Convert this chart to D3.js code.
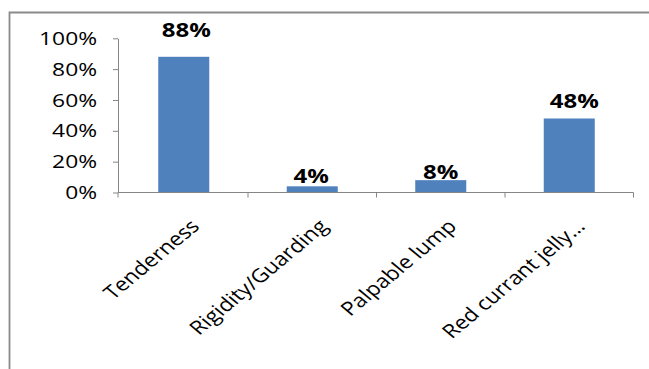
<!DOCTYPE html>
<html><head><meta charset="utf-8">
<script src="https://cdn.jsdelivr.net/npm/d3@7"></script>
<style>
body{margin:0;background:#fff;}
svg{display:block;}
text{font-family:"Open Sans",sans-serif;fill:#000;}
</style></head>
<body>
<svg id="chart" width="649" height="369"></svg>
<script>
const categories = ["Tenderness", "Rigidity/Guarding", "Palpable lump", "Red currant jelly\u2026"];
const values = [0.88, 0.04, 0.08, 0.48];
const valueLabels = ["88%", "4%", "8%", "48%"];
const yTicks = [0, 0.2, 0.4, 0.6, 0.8, 1.0];

(function () {
const svg = d3.select("#chart");
const W = 649, H = 369;
const axisX = 118, mLeft = 119.5, mRight = 633.5, mTop = 38.3, mBottom = 192.5;
const SX = 1.2; // horizontal text stretch seen in the reference

// frame
svg.append("path")
  .attr("d", `M9.5,${H} L9.5,12.5 L${W},12.5`)
  .attr("fill", "none").attr("stroke", "#8a8a8a").attr("stroke-width", 1.8);

const x = d3.scaleBand().domain(categories).range([mLeft, mRight])
  .paddingInner(0.603).paddingOuter(0.3015);
const y = d3.scaleLinear().domain([0, 1]).range([mBottom, mTop]);

// y axis
const yAxis = d3.axisLeft(y).tickValues(yTicks).tickFormat(d3.format(".0%"))
  .tickSize(5).tickSizeOuter(0).tickPadding(15);
const gy = svg.append("g").attr("transform", `translate(${axisX},0)`).call(yAxis);
gy.select(".domain").attr("stroke", "#868686");
gy.selectAll(".tick line").attr("stroke", "#868686");
gy.selectAll(".tick text")
  .attr("x", 0)
  .attr("transform", `translate(-21,0) scale(${SX},1)`)
  .style("font-size", "19px").attr("fill", "#000");

// bars
svg.append("g").selectAll("rect").data(values).join("rect")
  .attr("x", (d, i) => x(categories[i]))
  .attr("y", d => y(d))
  .attr("width", x.bandwidth())
  .attr("height", d => y(0) - y(d))
  .attr("fill", "#4F81BD");

// x axis
const step = x.step();
const boundaries = [axisX].concat(d3.range(1, categories.length + 1).map(i => mLeft + i * step));
svg.append("line").attr("x1", axisX).attr("x2", mRight).attr("y1", mBottom).attr("y2", mBottom)
  .attr("stroke", "#868686");
svg.append("g").selectAll("line").data(boundaries).join("line")
  .attr("x1", d => d).attr("x2", d => d).attr("y1", mBottom).attr("y2", mBottom + 5)
  .attr("stroke", "#868686");

// category labels
svg.append("g").selectAll("text").data(categories).join("text")
  .attr("transform", d => `translate(${x(d) + x.bandwidth() / 2 + 17},${mBottom + 35}) scale(${SX},1) rotate(-45)`)
  .attr("text-anchor", "end")
  .style("font-size", "19px")
  .text(d => d);

// value labels
const labelOffset = [19.5, 3, 1.5, 10];
const labelShift = [2.5, -1, 0, 5];
svg.append("g").selectAll("text").data(values).join("text")
  .attr("transform", (d, i) => `translate(${x(categories[i]) + x.bandwidth() / 2 + labelShift[i]},${y(d) - labelOffset[i]}) scale(${SX},1)`)
  .attr("text-anchor", "middle")
  .style("font-size", "20px").style("font-weight", "bold")
  .text((d, i) => valueLabels[i]);
})();
</script>
</body></html>
